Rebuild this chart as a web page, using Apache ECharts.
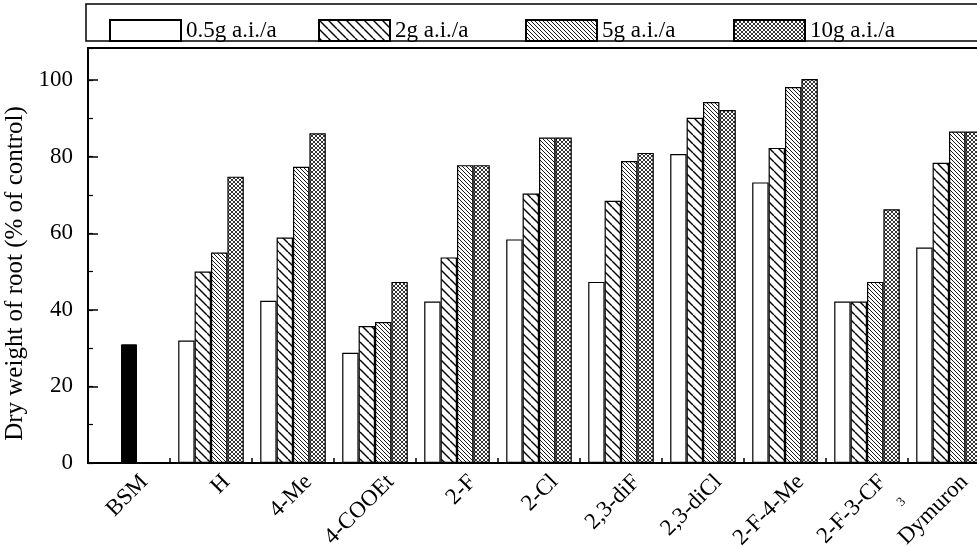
<!DOCTYPE html>
<html>
<head>
<meta charset="utf-8">
<script src="https://cdn.jsdelivr.net/npm/echarts@6/dist/echarts.min.js"></script>
<style>
  html, body { margin: 0; padding: 0; background: #fff; }
  #chart { width: 977px; height: 547px; }
</style>
</head>
<body>
<div id="chart"></div>
<script>
// Root dry weight (% of control) for each substituent and application rate
const categories = ['BSM', 'H', '4-Me', '4-COOEt', '2-F', '2-Cl', '2,3-diF', '2,3-diCl', '2-F-4-Me', '2-F-3-CF3', 'Dymuron'];
const seriesNames = ['0.5g a.i./a', '2g a.i./a', '5g a.i./a', '10g a.i./a'];
const bsmValues = [31, null, null, null, null, null, null, null, null, null, null];
const dose05 = [null, 32, 42.4, 28.8, 42.2, 58.4, 47.3, 80.7, 73.3, 42.2, 56.3];
const dose2  = [null, 50, 58.9, 35.8, 53.7, 70.4, 68.5, 90.2, 82.3, 42.2, 78.4];
const dose5  = [null, 55, 77.4, 36.8, 77.8, 85.0, 78.9, 94.3, 98.2, 47.3, 86.6];
const dose10 = [null, 74.8, 86.1, 47.3, 77.8, 85.0, 81.0, 92.2, 100.3, 66.3, 86.6];
const yTicks = [0, 20, 40, 60, 80, 100];

const FONT = 'Liberation Serif';

// Tileable hatch fill: 'back' = "\" lines, 'fwd' = "/" lines
function hatch(size, width, dirs) {
  const c = document.createElement('canvas');
  c.width = size; c.height = size;
  const g = c.getContext('2d');
  g.fillStyle = '#fff';
  g.fillRect(0, 0, size, size);
  g.strokeStyle = '#000';
  g.lineWidth = width;
  dirs.forEach(d => {
    [-size, 0, size].forEach(k => {
      g.beginPath();
      if (d === 'back') { g.moveTo(k, 0); g.lineTo(k + size, size); }
      else { g.moveTo(k, size); g.lineTo(k + size, 0); }
      g.stroke();
    });
  });
  return { image: c, repeat: 'repeat' };
}

const fills = [
  '#fff',
  hatch(9, 1.4, ['back']),
  hatch(4, 0.9, ['back']),
  hatch(4, 0.8, ['back', 'fwd'])
];
const doseData = [dose05, dose2, dose5, dose10];

const yMax = 108.4;

const barSeries = seriesNames.map((name, i) => ({
  name: name,
  type: 'bar',
  xAxisIndex: 0,
  yAxisIndex: 0,
  data: doseData[i],
  barGap: '0%',
  barCategoryGap: '20%',
  itemStyle: { color: fills[i], borderColor: '#000', borderWidth: 1.2 }
}));

const legendLefts = [104, 313, 520, 728];
const legends = seriesNames.map((name, i) => ({
  data: [name],
  icon: 'rect',
  left: legendLefts[i],
  top: 14,
  itemWidth: 71,
  itemHeight: 21,
  selectedMode: false,
  textStyle: { fontFamily: FONT, fontSize: 23, color: '#000' }
}));

const chart = echarts.init(document.getElementById('chart'), null, { renderer: 'canvas' });
chart.setOption({
  animation: false,
  backgroundColor: '#fff',
  legend: legends,
  graphic: [{
    type: 'rect',
    shape: { x: 86, y: 4, width: 910, height: 37 },
    style: { fill: 'none', stroke: '#000', lineWidth: 1.5 },
    z: 100
  }],
  grid: {
    left: 88, top: 48, right: -13, bottom: 84,
    outerBoundsMode: 'none',
    containLabel: false,
    show: true, borderColor: '#000', borderWidth: 2, backgroundColor: 'transparent'
  },
  xAxis: [{
    type: 'category',
    data: categories,
    boundaryGap: true,
    axisLine: { lineStyle: { color: '#000', width: 2 } },
    axisTick: { show: true, inside: true, length: 5, interval: 0, lineStyle: { color: '#000', width: 1.5 } },
    axisLabel: {
      interval: 0, rotate: 45, margin: 0, color: '#000',
      fontFamily: FONT, fontSize: 23,
      verticalAlign: 'top', lineHeight: 44,
      formatter: v => v === '2-F-3-CF3' ? '{n|2-F-3-CF}\n{s|3}' : v,
      rich: {
        n: { fontFamily: FONT, fontSize: 23, color: '#000', lineHeight: 44 },
        s: { fontFamily: FONT, fontSize: 13, color: '#000', lineHeight: 16 }
      }
    }
  }, {
    type: 'category',
    data: categories,
    show: false
  }],
  yAxis: [{
    type: 'value',
    min: 0, max: yMax, interval: 20,
    name: 'Dry weight of root (% of control)',
    nameLocation: 'middle',
    nameGap: 56,
    nameTextStyle: { fontFamily: FONT, fontSize: 25, color: '#000', padding: [0, 36, 0, 0] },
    axisLine: { show: true, lineStyle: { color: '#000', width: 2 } },
    axisTick: { show: true, inside: true, length: 10, lineStyle: { color: '#000', width: 1.5 } },
    axisLabel: {
      margin: 15, color: '#000', fontFamily: FONT, fontSize: 23, showMaxLabel: false,
      formatter: v => yTicks.indexOf(v) >= 0 ? String(v) : ''
    },
    splitLine: { show: false }
  }, {
    type: 'value',
    min: 0, max: yMax, interval: 10,
    position: 'left',
    axisLine: { show: false },
    axisTick: { show: true, inside: true, length: 5, lineStyle: { color: '#000', width: 1.2 } },
    axisLabel: { show: false },
    splitLine: { show: false }
  }],
  series: [{
    name: 'BSM',
    type: 'bar',
    xAxisIndex: 1,
    yAxisIndex: 0,
    data: bsmValues,
    barWidth: 16,
    itemStyle: { color: '#000', borderColor: '#000', borderWidth: 1 }
  }].concat(barSeries)
});
</script>
</body>
</html>
